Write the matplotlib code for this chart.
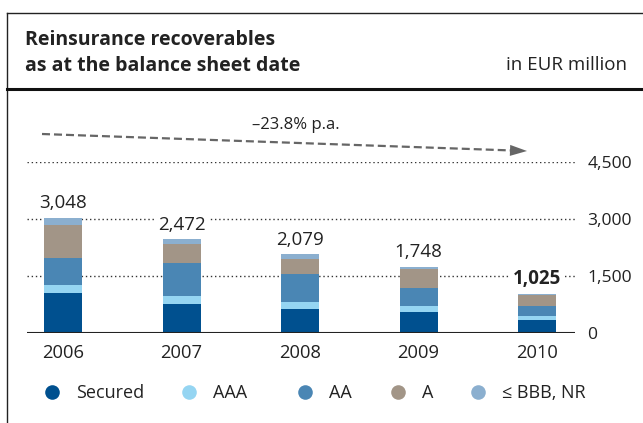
import matplotlib.pyplot as plt
import numpy as np

plt.rcParams['font.family'] = ['Open Sans', 'DejaVu Sans']

years = ['2006', '2007', '2008', '2009', '2010']
totals = [3048, 2472, 2079, 1748, 1025]
secured = [1048, 767, 640, 564, 330]
aaa = [213, 217, 177, 161, 107]
aa = [720, 866, 733, 468, 268]
a_rated = [880, 487, 404, 483, 294]
bbb_nr = [187, 135, 125, 72, 26]

series_names = ['Secured', 'AAA', 'AA', 'A', '\u2264 BBB, NR']
colors = ['#00508f', '#95d5f2', '#4a86b4', '#a29587', '#8bafcf']
y_ticks = [0, 1500, 3000, 4500]
y_tick_labels = ['0', '1,500', '3,000', '4,500']
growth_text = '\u201323.8% p.a.'

W, H = 643, 423
fig = plt.figure(figsize=(W / 100, H / 100), dpi=100)

# overlay in pixel coordinates for frame, header, arrow and legend
ov = fig.add_axes([0, 0, 1, 1])
ov.set_xlim(0, W)
ov.set_ylim(H, 0)
ov.axis('off')

# chart axes
left, right, base, top = 27, 575, 333, 162.5
ax = fig.add_axes([left / W, (H - base) / H, (right - left) / W, (base - top) / H])
ax.set_facecolor('none')

x = np.arange(len(years))
width = 0.32
bottom = np.zeros(len(years))
for vals, c in zip([secured, aaa, aa, a_rated, bbb_nr], colors):
    ax.bar(x, vals, width, bottom=bottom, color=c, zorder=3)
    bottom += np.array(vals)

for yt in y_ticks[1:]:
    ax.axhline(yt, color='#333333', lw=1, ls=(0, (1, 2)), zorder=1)
ax.axhline(0, color='#222222', lw=1.5, zorder=4)

for i, t in enumerate(totals):
    ax.annotate(f'{t:,}', (x[i], t), xytext=(0, 4), textcoords='offset points',
                ha='center', va='bottom', fontsize=13.5,
                fontweight='bold' if i == len(years) - 1 else 'normal',
                color='#222222', zorder=5,
                bbox=dict(boxstyle='square,pad=0.2', fc='white', ec='none'))

ax.set_xlim(-0.304, 4.32)
ax.set_ylim(0, 4500)
ax.set_xticks(x)
ax.set_xticklabels(years, fontsize=13.2, color='#222222')
ax.yaxis.tick_right()
ax.set_yticks(y_ticks)
ax.set_yticklabels(y_tick_labels, fontsize=12.6, color='#222222')
ax.tick_params(axis='both', length=0)
ax.tick_params(axis='x', pad=8)
ax.tick_params(axis='y', pad=9)
for s in ax.spines.values():
    s.set_visible(False)

# frame and header
ov.plot([7, W], [13, 13], color='#222222', lw=1)
ov.plot([7, 7], [13, H], color='#222222', lw=1)
ov.plot([7, W], [89, 89], color='#111111', lw=2.2)
ov.text(25, 40, 'Reinsurance recoverables', fontsize=14, fontweight='bold',
        color='#222222', va='center')
ov.text(25, 66, 'as at the balance sheet date', fontsize=14, fontweight='bold',
        color='#222222', va='center')
ov.text(627, 65, 'in EUR million', fontsize=13.5, color='#222222', va='center', ha='right')

# trend arrow: dashed shaft plus solid head
x0, y0, x1, y1 = 42, 134, 527, 151
hl, hw = 17, 11
dx, dy = x1 - x0, y1 - y0
n = np.hypot(dx, dy)
ux, uy = dx / n, dy / n
bx, by = x1 - hl * ux, y1 - hl * uy
ov.plot([x0, bx + 2 * ux], [y0, by + 2 * uy], color='#666666', lw=1.6,
        ls=(0, (3.6, 1.8)))
ov.fill([x1, bx - uy * hw / 2, bx + uy * hw / 2],
        [y1, by + ux * hw / 2, by - ux * hw / 2], color='#666666', lw=0)
ov.text(296, 125, growth_text, fontsize=12, color='#222222', ha='center', va='center')

# legend
leg_x = [52, 189, 305, 398, 478]
for lx, c, name in zip(leg_x, colors, series_names):
    ov.plot(lx, 392.5, 'o', ms=10.5, color=c, mec='none')
    ov.text(lx + 24, 392.5, name, fontsize=13, color='#222222', va='center')

fig.savefig('out.png', dpi=100)
